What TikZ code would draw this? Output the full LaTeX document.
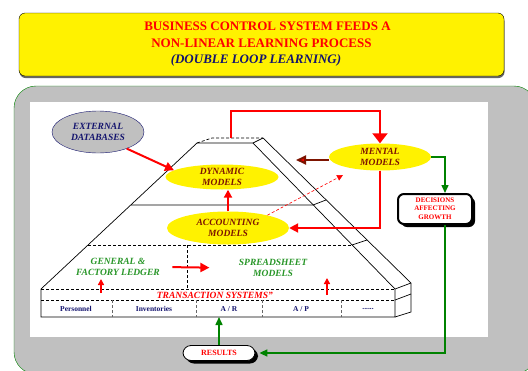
\documentclass[tikz,border=0pt]{standalone}
\usepackage{fontspec}
\setmainfont{Liberation Serif}
\usetikzlibrary{arrows.meta, shapes.geometric, shadows}
\definecolor{titlered}{RGB}{255,0,0}
\definecolor{navy}{RGB}{20,20,110}
\definecolor{maroon}{RGB}{125,20,0}
\definecolor{loopgreen}{RGB}{0,130,0}
\definecolor{textgreen}{RGB}{40,150,40}
\definecolor{panelgray}{RGB}{192,192,192}
\tikzset{
  title box/.style={
    draw=black, fill=yellow, rounded corners=6pt,
    minimum width=485pt, minimum height=63pt, align=center,
    font=\fontsize{13}{16.5}\selectfont\bfseries,
    drop shadow={shadow xshift=0.5pt, shadow yshift=-2pt, fill=black!60, opacity=1}
  },
  model/.style={
    ellipse, fill=yellow, inner xsep=0pt, inner ysep=0pt, align=center,
    font=\fontsize{9.5}{11}\selectfont\bfseries\itshape, text=maroon
  },
  pyr/.style={draw=black, line width=0.7pt},
  red arrow/.style={draw=red, line width=2pt, -{Triangle[length=9pt,width=9pt]}},
  green arrow/.style={draw=loopgreen, line width=1.5pt, -{Triangle[length=8pt,width=7pt]}},
  cell/.style={font=\fontsize{7.5}{8}\selectfont\bfseries, text=navy},
  ledger/.style={align=center, font=\fontsize{9.5}{11}\selectfont\bfseries\itshape, text=textgreen},
  shadow box/.style={
    draw=black, fill=white, align=center, text=titlered,
    drop shadow={shadow xshift=3pt, shadow yshift=-3pt, fill=black, opacity=1}
  }
}

\begin{document}
\begin{tikzpicture}[x=1pt, y=-1pt]
    \useasboundingbox (0,0) rectangle (528,370);
    \clip (0,0) rectangle (528,370);

    % Title banner
    \node[title box] (title) at (261.5,44.5) {%
      \hspace*{12pt}\textcolor{titlered}{BUSINESS CONTROL SYSTEM FEEDS A}\\
      \textcolor{titlered}{NON-LINEAR LEARNING PROCESS}\\
      \textcolor{navy}{\itshape (DOUBLE LOOP LEARNING)}\hspace*{11pt}};

    % Grey panel and the white sheet
    \draw[draw=loopgreen, fill=panelgray, rounded corners=22pt] (14,86) rectangle (536,374);
    \fill[white] (30,102) rectangle (488,337);

    % Pyramid corners
    \coordinate (tl) at (197,143);
    \coordinate (tr) at (253,143);
    \coordinate (tbl) at (212,138);
    \coordinate (tbr) at (263,138);
    \coordinate (flb) at (41,289);
    \coordinate (frb) at (395,289);
    \coordinate (brb) at (411,283);
    \coordinate (fbl) at (41,317);
    \coordinate (fbr) at (395,317);
    \coordinate (bbr) at (411,312);
    \coordinate (ptop) at (231,138);

    % Pyramid faces
    \draw[pyr] (fbl) -- (flb) -- (tl) -- (tr) -- (frb) -- (fbr) -- cycle;
    \draw[pyr] (tr) -- (tbr) -- (brb) -- (bbr) -- (fbr);
    \draw[pyr] (frb) -- (brb);
    \draw[pyr, densely dashed] (tl) -- (tbl) -- (tbr);
    % levels
    \draw[pyr] (131,205) -- (313,205) -- (326,200);
    \draw[pyr, densely dashed] (88,245) -- (352,245);
    \draw[pyr] (352,245) -- (367,240);
    \draw[pyr, densely dashed] (187,245) -- (187,289);
    \draw[pyr, densely dashed] (flb) -- (frb);
    \draw[pyr, densely dashed] (41,300) -- (395,300);
    \draw[pyr] (395,300) -- (411,294);
    \foreach \x in {112,196,262,341}
      \draw[pyr, densely dashed, black!60] (\x,300) -- (\x,317);

    % Transaction systems row
    \node[anchor=east, font=\fontsize{9.5}{11}\selectfont\bfseries\itshape, text=red, inner sep=0pt]
      (trans) at (273,295) {TRANSACTION SYSTEMS''};
    \node[cell] (personnel) at (76,309) {Personnel};
    \node[cell] (inventories) at (154,309) {Inventories};
    \node[cell] (ar) at (229,309) {A / R};
    \node[cell] (ap) at (301,309) {A / P};
    \node[cell] (more) at (368,309) {......};

    % Ledger level
    \node[ledger] (gen) at (118,267) {GENERAL \&\\FACTORY LEDGER};
    \node[ledger] (spread) at (273,268) {SPREADSHEET\\MODELS};
    \coordinate (up1) at (101,293);
    \coordinate (up2) at (327,295);

    % Models
    \node[model, minimum width=92pt, minimum height=42pt, fill=panelgray, draw=navy, text=navy]
      (ext) at (98,132) {EXTERNAL\\DATABASES};
    \node[model, minimum width=113pt, minimum height=25pt] (dyn) at (222,177) {DYNAMIC\\MODELS};
    \node[model, minimum width=122pt, minimum height=33pt] (acc) at (228,228) {ACCOUNTING\\MODELS};
    \node[model, minimum width=102pt, minimum height=27pt] (mental) at (380,157) {MENTAL\\MODELS};
    \coordinate (mtip) at (296,160);
    \coordinate (dtip) at (343,175);
    \coordinate (loop) at (380,111);

    % Decision and result boxes
    \node[shadow box, rounded corners=6pt, line width=2pt, minimum width=74pt, minimum height=30pt,
      font=\fontsize{7}{8}\selectfont\bfseries] (dec) at (435,209) {DECISIONS\\AFFECTING\\[1pt]GROWTH};
    \node[shadow box, rounded corners=8pt, line width=0.8pt, minimum width=72pt, minimum height=15pt,
      font=\fontsize{8}{9}\selectfont\bfseries] (res) at (219,353) {RESULTS};

    % Red arrows
    \draw[red arrow] (ext.-30) -- (dyn.172);
    \draw[red arrow, -{Triangle[length=8pt,width=8pt]}] (acc.north) -- (acc.north |- dyn.south);
    \draw[red arrow, shorten <=9pt, shorten >=26pt] (gen.east) -- (spread.west);
    \draw[red arrow, line width=1.5pt, -{Triangle[length=6pt,width=6pt]}] (up1) -- ++(0,-14);
    \draw[red arrow, line width=1.5pt, -{Triangle[length=6pt,width=6pt]}] (up2) -- ++(0,-17);
    \draw[red arrow, -{Triangle[length=10pt,width=15pt]}] (ptop) |- (loop) -- (mental.north);
    \draw[red arrow] (mental.south) |- (acc.east);
    \draw[red arrow, draw=maroon, -{Triangle[length=10pt,width=9pt,fill=red]}] (mental.west |- mtip) -- (mtip);
    \draw[red arrow, line width=0.6pt, densely dashed, -{Triangle[length=6pt,width=6pt]}] (acc.18) -- (dtip);

    % Green loop
    \draw[green arrow] (mental.east) -| ([xshift=10pt]dec.north);
    \draw[green arrow, shorten >=4pt] ([xshift=10pt]dec.south) |- (res.east);
    \draw[green arrow] (res.north) -- (res.north |- fbl);
\end{tikzpicture}
\end{document}
